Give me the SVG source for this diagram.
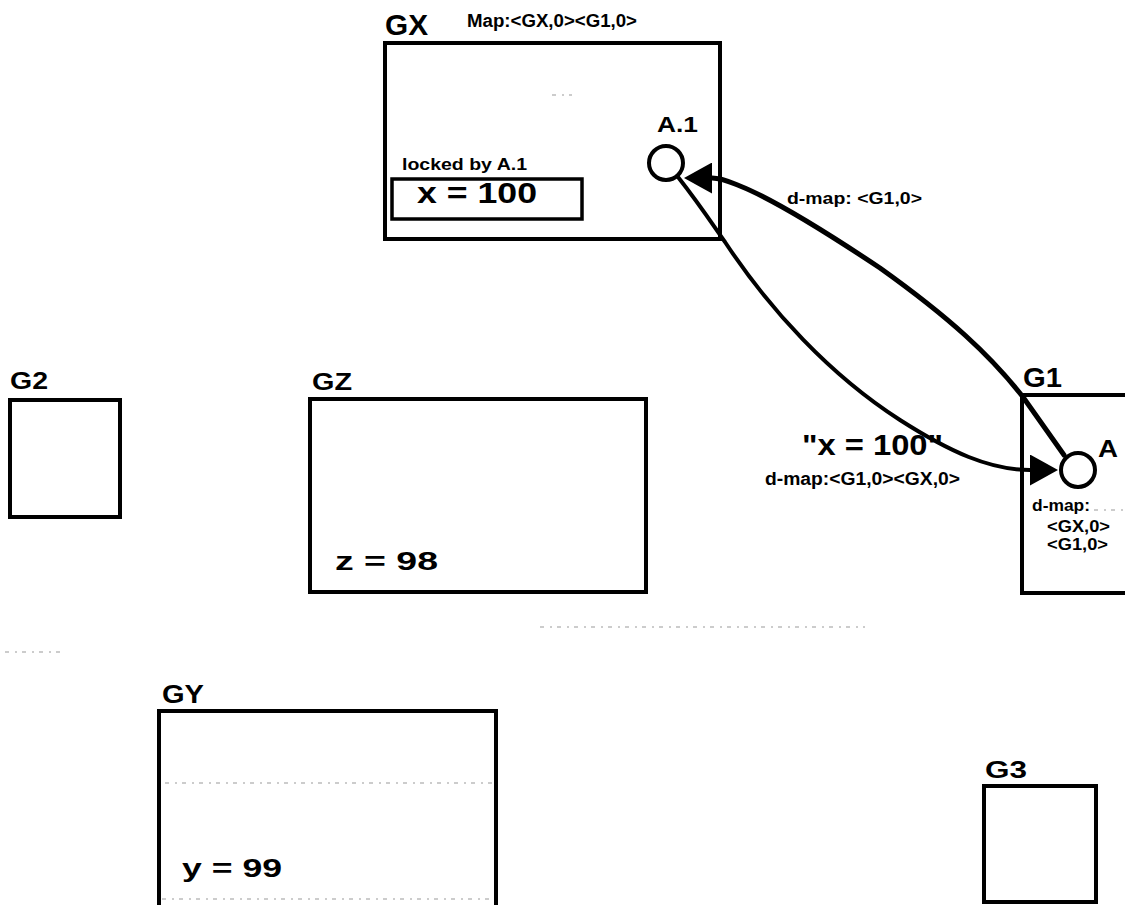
<svg xmlns="http://www.w3.org/2000/svg" width="1125" height="905" viewBox="0 0 1125 905">
  <style>
    .box { fill: none; stroke: #000; stroke-width: 4; }
    .inner { fill: none; stroke: #000; stroke-width: 3.5; }
    .node { fill: #fff; stroke: #000; stroke-width: 4; }
    .big { font-family: "Liberation Sans", Arial, sans-serif; font-weight: bold; fill: #000; }
    .small { font-family: "Liberation Sans", Arial, sans-serif; font-weight: bold; fill: #000; }
    .conn { fill: none; stroke: #000; stroke-linecap: round; }
    .faint { fill: none; stroke: #999; stroke-width: 1; stroke-dasharray: 4 6 2 5; }
  </style>
  <defs>
    <marker id="arrow" viewBox="0 0 28 31" refX="0" refY="15.5" markerWidth="28" markerHeight="31" markerUnits="userSpaceOnUse" orient="auto">
      <path d="M0,0 L28,15.5 L0,31 z" fill="#000"/>
    </marker>
  </defs>
  <rect width="1125" height="905" fill="#fff"/>

  <g id="scan-marks">
    <line class="faint" x1="540" y1="627" x2="865" y2="627"/>
    <line class="faint" x1="5" y1="652" x2="65" y2="652"/>
    <line class="faint" x1="165" y1="783" x2="492" y2="783"/>
    <line class="faint" x1="162" y1="899" x2="494" y2="899"/>
    <line class="faint" x1="1094" y1="510" x2="1125" y2="510"/>
    <line class="faint" x1="552" y1="95" x2="572" y2="95"/>
  </g>

  <g id="GX">
    <rect class="box" x="385" y="43" width="335" height="196"/>
    <text class="big" x="385" y="35" font-size="30" textLength="43" lengthAdjust="spacingAndGlyphs">GX</text>
    <text class="small" x="467" y="27" font-size="18" textLength="170" lengthAdjust="spacingAndGlyphs">Map:&lt;GX,0&gt;&lt;G1,0&gt;</text>
    <text class="small" x="402" y="170" font-size="16" textLength="125" lengthAdjust="spacingAndGlyphs">locked by A.1</text>
    <rect class="inner" x="392" y="179" width="190" height="40"/>
    <text class="big" x="417" y="203" font-size="29" textLength="120" lengthAdjust="spacingAndGlyphs">x = 100</text>
  </g>

  <g id="A1">
    <circle class="node" cx="666" cy="163" r="17"/>
    <text class="big" x="657" y="132" font-size="22" textLength="41" lengthAdjust="spacingAndGlyphs">A.1</text>
  </g>

  <g id="G2">
    <rect class="box" x="10" y="400" width="110" height="117"/>
    <text class="big" x="10" y="389" font-size="24" textLength="38" lengthAdjust="spacingAndGlyphs">G2</text>
  </g>

  <g id="GZ">
    <rect class="box" x="310" y="399" width="336" height="193"/>
    <text class="big" x="312" y="390" font-size="24" textLength="40" lengthAdjust="spacingAndGlyphs">GZ</text>
    <text class="big" x="335" y="570" font-size="26" textLength="103" lengthAdjust="spacingAndGlyphs">z = 98</text>
  </g>

  <g id="G1">
    <rect class="box" x="1022" y="395" width="120" height="198"/>
    <text class="big" x="1023" y="387" font-size="27" textLength="39" lengthAdjust="spacingAndGlyphs">G1</text>
    <text class="small" x="1032" y="511" font-size="17" textLength="58" lengthAdjust="spacingAndGlyphs">d-map:</text>
    <text class="small" x="1047" y="532" font-size="17" textLength="63" lengthAdjust="spacingAndGlyphs">&lt;GX,0&gt;</text>
    <text class="small" x="1047" y="550" font-size="17" textLength="61" lengthAdjust="spacingAndGlyphs">&lt;G1,0&gt;</text>
  </g>

  <g id="A">
    <circle class="node" cx="1078" cy="470" r="17"/>
    <text class="big" x="1098" y="457" font-size="24" textLength="20" lengthAdjust="spacingAndGlyphs">A</text>
  </g>

  <g id="GY">
    <rect class="box" x="159" y="711" width="337" height="220"/>
    <text class="big" x="162" y="703" font-size="25" textLength="42" lengthAdjust="spacingAndGlyphs">GY</text>
    <text class="big" x="182" y="877" font-size="26" textLength="100" lengthAdjust="spacingAndGlyphs">y = 99</text>
  </g>

  <g id="G3">
    <rect class="box" x="984" y="786" width="112" height="116"/>
    <text class="big" x="985" y="778" font-size="23" textLength="42" lengthAdjust="spacingAndGlyphs">G3</text>
  </g>

  <g id="connectors">
    <path class="conn" stroke-width="5" d="M1064,455 L1023,397 C990,355 950,318 880,268 C820,228 770,198 740,186 C730,182 722,178 712,178" marker-end="url(#arrow)"/>
    <path class="conn" stroke-width="4" d="M678,177 C700,205 713,225 725,242 C770,310 830,375 900,420 C950,452 990,470 1030,470" marker-end="url(#arrow)"/>
    <text class="small" x="787" y="204" font-size="17" textLength="135" lengthAdjust="spacingAndGlyphs">d-map: &lt;G1,0&gt;</text>
    <text class="big" x="802" y="455" font-size="30" textLength="141" lengthAdjust="spacingAndGlyphs">"x = 100"</text>
    <text class="small" x="765" y="485" font-size="18" textLength="195" lengthAdjust="spacingAndGlyphs">d-map:&lt;G1,0&gt;&lt;GX,0&gt;</text>
  </g>
</svg>
